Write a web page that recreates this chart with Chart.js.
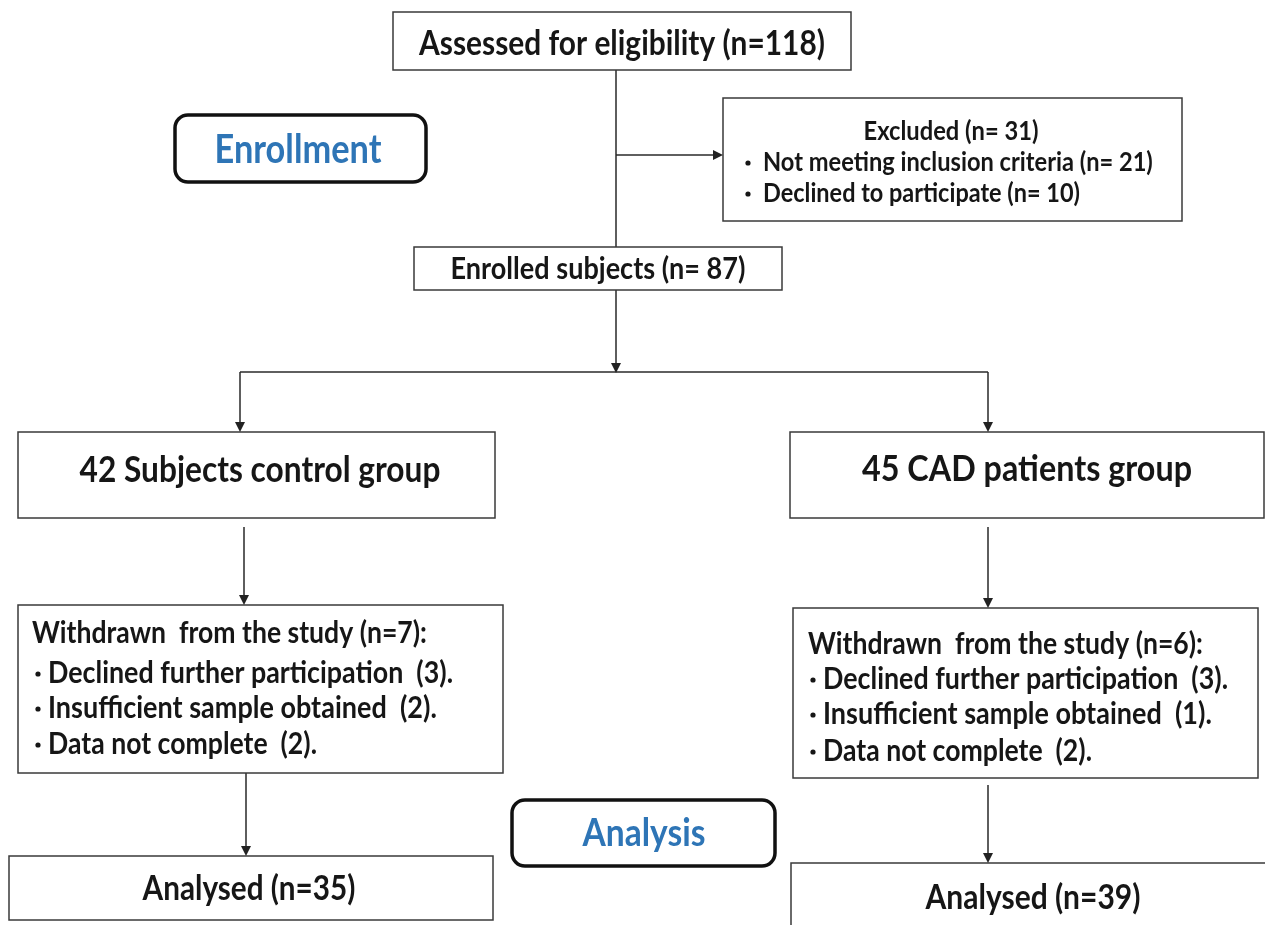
<!DOCTYPE html>
<html>
<head>
<meta charset="utf-8">
<script src="https://cdn.jsdelivr.net/npm/chart.js@4"></script>
<style>
  html, body { margin: 0; padding: 0; background: #fff; }
  #wrap { width: 1265px; height: 925px; }
</style>
</head>
<body>
<div id="wrap"><canvas id="flowChart" width="1265" height="925"></canvas></div>
<script>
// flow data
const stageLabels = ['Enrollment', 'Analysis'];
const screeningLabels = ['Assessed for eligibility', 'Excluded', 'Enrolled subjects'];
const screeningN = [118, 31, 87];
const exclusionReasons = ['Not meeting inclusion criteria', 'Declined to participate'];
const exclusionN = [21, 10];
const groupN = [42, 45];
const groupNames = ['Subjects control group', 'CAD patients group'];
const withdrawnN = [7, 6];
const withdrawReasons = ['Declined further participation', 'Insufficient sample obtained', 'Data not complete'];
const withdrawControl = [3, 2, 2];
const withdrawCAD = [3, 1, 2];
const analysedN = [35, 39];

const FONT = 'Lato, "Open Sans", sans-serif';
const INK = '#161616';
const BLUE = '#2e75b6';
const SQUEEZE = 1.15; // calibri-ish: taller glyphs at the same width

// boxes (pixel space of the 1265x925 picture, mapped through the chart scales)
const boxes = [
    { x0: 393, y0: 12, x1: 851, y1: 70 },
    { x0: 723, y0: 98, x1: 1182, y1: 221 },
    { x0: 414, y0: 247, x1: 782, y1: 290 },
    { x0: 18, y0: 432, x1: 495, y1: 518 },
    { x0: 790, y0: 432, x1: 1264, y1: 518 },
    { x0: 18, y0: 605, x1: 503, y1: 773 },
    { x0: 793, y0: 608, x1: 1258, y1: 778 },
    { x0: 9, y0: 856, x1: 493, y1: 920 },
    { x0: 791, y0: 863, x1: 1266, y1: 930 }
];
const stageBoxes = [
    { x0: 175, y0: 115, x1: 426, y1: 182 },
    { x0: 512, y0: 800, x1: 775, y1: 866 }
];

// text items: text, anchor x, middle y, target width, alignment
const texts = [];
function addText(t, x, y, w, align, color, bullet) {
    texts.push({ t, x, y, w, align: align || 'center', color: color || INK, bullet });
}
addText(`${screeningLabels[0]} (n=${screeningN[0]})`, 622, 44, 406);
addText(stageLabels[0], 298, 150, 167, 'center', BLUE);
addText(`${screeningLabels[1]} (n= ${screeningN[1]})`, 951, 131, 175);
exclusionReasons.forEach((r, i) => {
    addText(`${r} (n= ${exclusionN[i]})`, 763, [162, 193][i], i === 0 ? 390 : 317, 'left', INK, 748);
});
addText(`${screeningLabels[2]} (n= ${screeningN[2]})`, 598, 269, 295);
addText(`${groupN[0]} ${groupNames[0]}`, 260, 470, 361);
addText(`${groupN[1]} ${groupNames[1]}`, 1027, 469, 330);

const wLeftY = [633, 673, 708, 744];
const wRightY = [644, 679, 714, 751];
addText(`Withdrawn  from the study (n=${withdrawnN[0]}):`, 32, wLeftY[0], 395, 'left');
addText(`Withdrawn  from the study (n=${withdrawnN[1]}):`, 808, wRightY[0], 395, 'left');
const reasonW = [405, 389, 269];
withdrawReasons.forEach((r, i) => {
    addText(`${r}  (${withdrawControl[i]}).`, 48, wLeftY[i + 1], reasonW[i], 'left', INK, 38);
    addText(`${r}  (${withdrawCAD[i]}).`, 823, wRightY[i + 1], reasonW[i], 'left', INK, 813);
});
addText(`Analysed (n=${analysedN[0]})`, 249, 889, 213);
addText(`Analysed (n=${analysedN[1]})`, 1033, 898, 215);
addText(stageLabels[1], 644, 834, 123, 'center', BLUE);

// connector lines and arrow tips
const connectors = [
    [[616, 70], [616, 247]],
    [[616, 155], [716, 155]],
    [[616, 290], [616, 365]],
    [[240, 372], [988, 372]],
    [[240, 372], [240, 424]],
    [[988, 372], [988, 424]],
    [[244, 527], [244, 598]],
    [[988, 527], [988, 601]],
    [[246, 773], [246, 849]],
    [[988, 785], [988, 856]]
];
const arrowTips = [
    [723, 155, 'right'], [616, 373, 'down'], [240, 432, 'down'], [988, 432, 'down'],
    [244, 605, 'down'], [988, 608, 'down'], [246, 856, 'down'], [988, 863, 'down']
];

const flowPlugin = {
    id: 'flowPlugin',
    afterDatasetsDraw(chart) {
        const ctx = chart.ctx;
        const xs = chart.scales.x, ys = chart.scales.y;
        const px = v => xs.getPixelForValue(v);
        const py = v => ys.getPixelForValue(v);
        ctx.save();

        ctx.strokeStyle = '#3a3a3a';
        ctx.lineWidth = 1.5;
        boxes.forEach(b => {
            ctx.strokeRect(px(b.x0), py(b.y0), px(b.x1) - px(b.x0), py(b.y1) - py(b.y0));
        });

        ctx.strokeStyle = '#111';
        ctx.lineWidth = 3.5;
        stageBoxes.forEach(b => {
            ctx.beginPath();
            ctx.roundRect(px(b.x0), py(b.y0), px(b.x1) - px(b.x0), py(b.y1) - py(b.y0), 13);
            ctx.stroke();
        });

        ctx.fillStyle = '#222';
        arrowTips.forEach(([x, y, dir]) => {
            const tx = px(x), ty = py(y);
            ctx.beginPath();
            if (dir === 'down') {
                ctx.moveTo(tx, ty);
                ctx.lineTo(tx - 5, ty - 10);
                ctx.lineTo(tx + 5, ty - 10);
            } else {
                ctx.moveTo(tx, ty);
                ctx.lineTo(tx - 10, ty - 5);
                ctx.lineTo(tx - 10, ty + 5);
            }
            ctx.closePath();
            ctx.fill();
        });

        ctx.textBaseline = 'middle';
        texts.forEach(it => {
            ctx.font = `bold 40px ${FONT}`;
            const m = ctx.measureText(it.t).width;
            const size = 40 * it.w / m * SQUEEZE;
            ctx.font = `bold ${size.toFixed(2)}px ${FONT}`;
            ctx.fillStyle = it.color;
            ctx.textAlign = it.align;
            ctx.save();
            ctx.translate(px(it.x), py(it.y));
            ctx.scale(1 / SQUEEZE, 1);
            ctx.fillText(it.t, 0, 0);
            ctx.restore();
            if (it.bullet !== undefined) {
                ctx.beginPath();
                ctx.arc(px(it.bullet), py(it.y) + 1, 2.6, 0, Math.PI * 2);
                ctx.fill();
            }
        });
        ctx.restore();
    }
};

const datasets = connectors.map(seg => ({
    data: seg.map(([x, y]) => ({ x, y })),
    showLine: true,
    borderColor: '#2a2a2a',
    borderWidth: 1.5,
    pointRadius: 0,
    fill: false
}));

new Chart(document.getElementById('flowChart').getContext('2d'), {
    type: 'scatter',
    data: { datasets },
    options: {
        responsive: false,
        animation: false,
        layout: { padding: 0 },
        plugins: { legend: { display: false }, tooltip: { enabled: false } },
        scales: {
            x: { type: 'linear', min: 0, max: 1265, display: false },
            y: { type: 'linear', min: 0, max: 925, reverse: true, display: false }
        }
    },
    plugins: [flowPlugin]
});
</script>
</body>
</html>
